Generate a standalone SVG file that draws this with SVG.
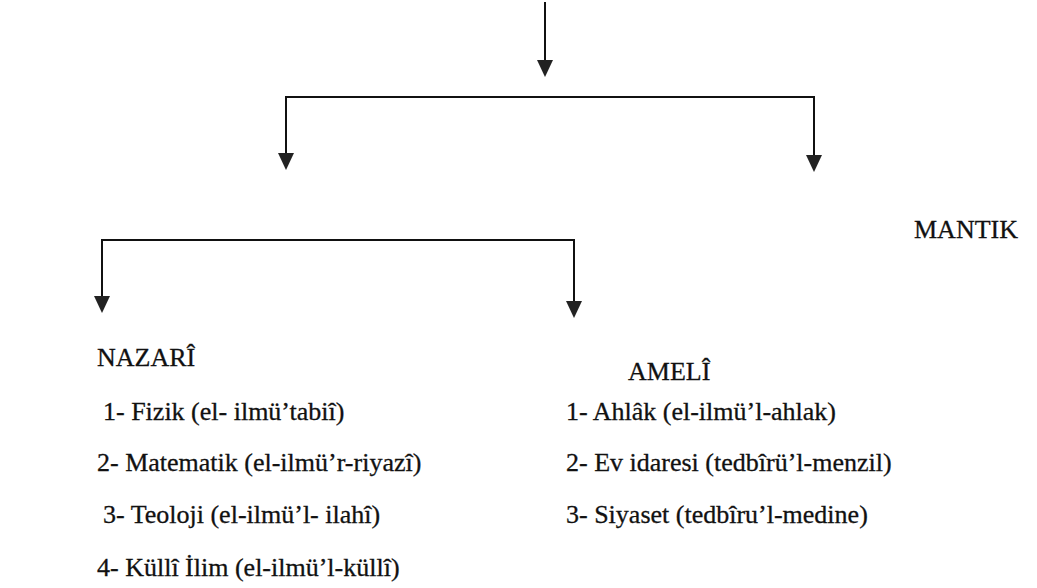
<svg xmlns="http://www.w3.org/2000/svg" width="1037" height="588" viewBox="0 0 1037 588">
<style>
.t{font-family:'Liberation Serif','Times New Roman',serif;font-size:26px;fill:#111;stroke:#111;stroke-width:0.3}
.c{fill:none;stroke:#111;stroke-width:2}
.h{fill:#222}
</style>
<rect width="1037" height="588" fill="#fff"/>
<g id="connectors">
<path class="c" d="M545,2 V63"/>
<polygon class="h" points="537,60 553,60 545,77"/>
<path class="c" d="M286,160 V97 H814 V160"/>
<polygon class="h" points="278,153 294,153 286,170"/>
<polygon class="h" points="806,155 822,155 814,172"/>
<path class="c" d="M102,300 V240 H574 V305"/>
<polygon class="h" points="94,296 110,296 102,313"/>
<polygon class="h" points="566,301 582,301 574,318"/>
</g>
<g id="mantik"><text class="t" x="914" y="238">MANTIK</text></g>
<g id="nazari">
<text class="t" x="97" y="366">NAZARÎ</text>
<text class="t" x="103" y="420">1- Fizik (el- ilmü’tabiî)</text>
<text class="t" x="97" y="471">2- Matematik (el-ilmü’r-riyazî)</text>
<text class="t" x="103" y="523">3- Teoloji (el-ilmü’l- ilahî)</text>
<text class="t" x="97" y="576">4-  Küllî İlim (el-ilmü’l-küllî)</text>
</g>
<g id="ameli">
<text class="t" x="628" y="380">AMELÎ</text>
<text class="t" x="566" y="420">1- Ahlâk (el-ilmü’l-ahlak)</text>
<text class="t" x="566" y="471">2- Ev idaresi (tedbîrü’l-menzil)</text>
<text class="t" x="566" y="523">3- Siyaset (tedbîru’l-medine)</text>
</g>
</svg>
